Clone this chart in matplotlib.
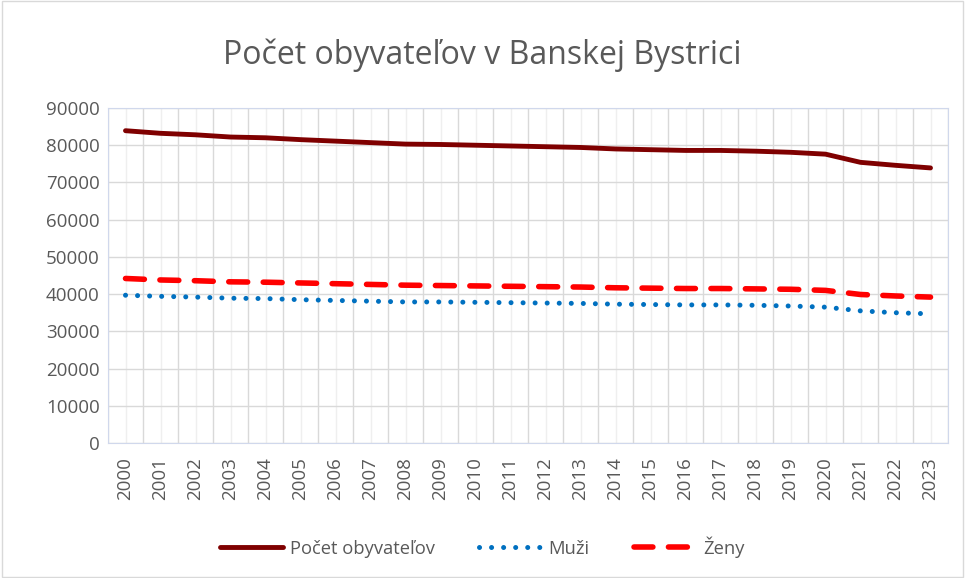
import matplotlib.pyplot as plt
import numpy as np

years = [str(y) for y in range(2000, 2024)]
pocet = [83900, 83200, 82800, 82200, 82000, 81500, 81100, 80700, 80300, 80200, 80000, 79800,
         79600, 79400, 79000, 78800, 78600, 78600, 78400, 78100, 77600, 75400, 74600, 73900]
muzi = [39700, 39400, 39200, 38900, 38800, 38500, 38300, 38100, 37900, 37900, 37800, 37700,
        37600, 37500, 37300, 37200, 37100, 37100, 37000, 36800, 36500, 35500, 35000, 34700]
zeny = [44200, 43800, 43600, 43300, 43200, 43000, 42800, 42600, 42400, 42300, 42200, 42100,
        42000, 41900, 41700, 41600, 41500, 41500, 41400, 41300, 41000, 39900, 39500, 39200]

plt.rcParams['font.family'] = ['Open Sans', 'DejaVu Sans']
txt = '#595959'

fig = plt.figure(figsize=(9.65, 5.78), dpi=100)
ax = fig.add_axes([108/965, 1-443/578, 840/965, 335/578])

x = np.arange(len(years))
ax.plot(x, pocet, color='#7f0000', lw=3.5, solid_capstyle='round', label='Počet obyvateľov')
ax.plot(x, muzi, color='#0070c0', lw=3.6, linestyle=(0, (0.01, 2.4)), dash_capstyle='round', label='Muži')
ax.plot(x, zeny, color='#ff0000', lw=4, linestyle=(0, (3.4, 2.8)), dash_capstyle='round', label='Ženy')

ax.set_xlim(-0.5, len(years) - 0.5)
ax.set_ylim(0, 90000)
ax.set_yticks(range(0, 90001, 10000))
ax.set_xticks(x)
ax.set_xticklabels(years, rotation=90)
ax.set_xticks(np.arange(-0.5, len(years), 1), minor=True)
ax.grid(axis='y', color='#d9d9d9', lw=1)
ax.grid(axis='x', which='major', color='#efefef', lw=1)
ax.grid(axis='x', which='minor', color='#d9d9d9', lw=1)
ax.set_axisbelow(True)
ax.tick_params(axis='both', which='both', length=0, colors=txt, labelsize=13.5)
ax.tick_params(axis='x', pad=10)
ax.tick_params(axis='y', pad=6)
for s in ax.spines.values():
    s.set_color('#d0d8ec')

fig.text(0.5, 1-55/578, 'Počet obyvateľov v Banskej Bystrici', ha='center', va='center',
         fontsize=23, color=txt)
fig.legend(loc='center', bbox_to_anchor=(0.5, 1-547/578), ncol=3, frameon=False,
           fontsize=13.2, labelcolor=txt, handlelength=3.4, columnspacing=2.4, handletextpad=0.4)

fig.patches.append(plt.Rectangle((0.002, 0.002), 0.996, 0.996, transform=fig.transFigure,
                                 fill=False, edgecolor='#d9d9d9', lw=1))
fig.savefig('out.png', dpi=100)
